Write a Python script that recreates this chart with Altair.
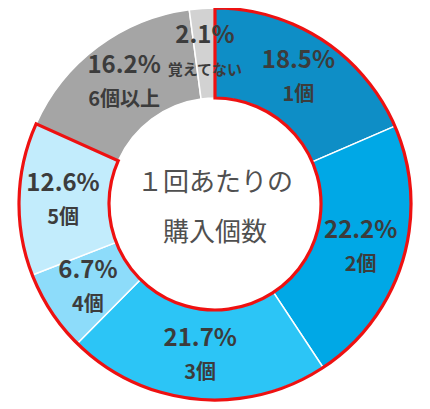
import altair as alt
import pandas as pd

categories = ["1個", "2個", "3個", "4個", "5個", "6個以上", "覚えてない"]
values = [18.5, 22.2, 21.7, 6.7, 12.6, 16.2, 2.1]
colors = ["#0e8ec6", "#00a8e6", "#2cc5f6", "#8ddcfa", "#c2ecfc", "#a5a5a5", "#d2d2d2"]
center_lines = ["１回あたりの", "購入個数"]
highlight_groups = ["1〜5個", "その他"]

df = pd.DataFrame({
    "cat": categories,
    "value": values,
    "idx": list(range(len(categories))),
    "pct": [f"{v:.1f}%" for v in values],
})

grp = pd.DataFrame({
    "grp": highlight_groups,
    "value": [round(sum(values[:5]), 1), round(sum(values[5:]), 1)],
    "idx": [0, 1],
})

FONT = "Noto Sans CJK JP"
OUTER, INNER = 196, 106

theta = alt.Theta("value:Q", stack=True)
order = alt.Order("idx:Q")

base = alt.Chart(df)

arcs = base.mark_arc(outerRadius=OUTER, innerRadius=INNER, stroke="white", strokeWidth=1.5).encode(
    theta=theta,
    order=order,
    color=alt.Color("cat:N", scale=alt.Scale(domain=categories, range=colors), legend=None),
)

outline = alt.Chart(grp).mark_arc(outerRadius=OUTER, innerRadius=INNER, fillOpacity=0, strokeWidth=3.2,
                                  stroke="#ee1111").encode(
    theta=theta,
    order=order,
    strokeOpacity=alt.condition(alt.datum.idx == 0, alt.value(1), alt.value(0)),
)

pct_text = base.mark_text(radius=152, dy=-16, font=FONT, fontWeight="bold", fontSize=24,
                          color="#3c3c3c").encode(
    theta=theta,
    order=order,
    text="pct:N",
)

cat_text = base.mark_text(radius=152, dy=18, font=FONT, fontWeight="bold",
                          color="#3c3c3c").encode(
    theta=theta,
    order=order,
    text="cat:N",
    size=alt.condition(alt.datum.cat == "覚えてない", alt.value(15), alt.value(20)),
)

center = alt.Chart(pd.DataFrame({"a": [0]})).mark_text(
    font=FONT, fontSize=26, color="#505050", lineHeight=50, baseline="middle", dy=-21
).encode(text=alt.value(center_lines))

chart = alt.layer(arcs, outline, pct_text, cat_text, center).properties(
    width=414, height=392,
    padding={"left": 0, "top": 0, "right": 0, "bottom": 8},
    autosize=alt.AutoSizeParams(type="none"),
).configure_view(stroke=None)

chart.save("out.html", embed_options={"renderer": "svg", "actions": False})
